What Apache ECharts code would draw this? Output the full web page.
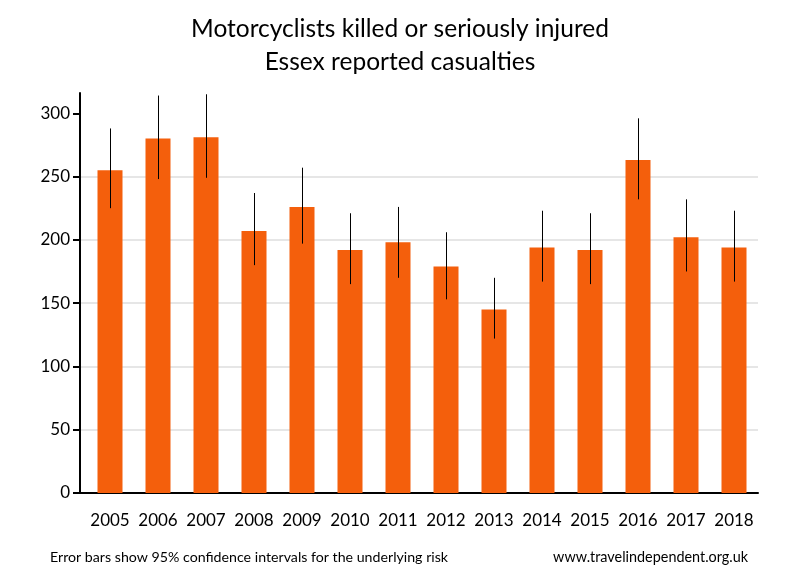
<!DOCTYPE html>
<html><head><meta charset="utf-8">
<script src="https://cdn.jsdelivr.net/npm/echarts@6/dist/echarts.min.js"></script>
<style>html,body{margin:0;padding:0;background:#fff}#c{width:800px;height:580px}</style>
</head><body><div id="c"></div>
<script>
const years = ['2005','2006','2007','2008','2009','2010','2011','2012','2013','2014','2015','2016','2017','2018'];
const casualties = [255, 280, 281, 207, 226, 192, 198, 179, 145, 194, 192, 263, 202, 194];
const ciLow = [225, 248, 249, 180, 197, 165, 170, 153, 122, 167, 165, 232, 175, 167];
const ciHigh = [288, 314, 315, 237, 257, 221, 226, 206, 170, 223, 221, 296, 232, 223];
const yTicks = [0, 50, 100, 150, 200, 250, 300];
const yMax = 316;

const FONT = 'Lato';
const chart = echarts.init(document.getElementById('c'), null, {renderer: 'canvas'});
chart.setOption({
  animation: false,
  backgroundColor: '#fff',
  textStyle: {fontFamily: FONT},
  title: [
    {text: 'Motorcyclists killed or seriously injured\nEssex reported casualties', left: 'center', top: 8,
     textStyle: {fontFamily: FONT, fontSize: 24.5, fontWeight: 'normal', color: '#000', lineHeight: 33}},
    {text: 'Error bars show 95% confidence intervals for the underlying risk', left: 45, top: 545,
     textStyle: {fontFamily: FONT, fontSize: 14.2, fontWeight: 'normal', color: '#000'}},
    {text: 'www.travelindependent.org.uk', right: 47, top: 545,
     textStyle: {fontFamily: FONT, fontSize: 14.4, fontWeight: 'normal', color: '#000'}}
  ],
  grid: [
    {left: 80, right: 42, top: 93, bottom: 87},
    {left: 86, right: 42, top: 93, bottom: 87}
  ],
  xAxis: [
    {type: 'value', gridIndex: 0, min: 0, max: 1,
     axisLine: {show: true, onZero: false, lineStyle: {color: '#000', width: 2}},
     axisTick: {show: false}, axisLabel: {show: false}, splitLine: {show: false}},
    {type: 'category', gridIndex: 1, data: years,
     axisLine: {show: false}, axisTick: {show: false},
     axisLabel: {color: '#000', fontSize: 17, margin: 19, fontFamily: FONT, interval: 0}}
  ],
  yAxis: [
    {type: 'value', gridIndex: 0, min: 0, max: yMax, interval: 50,
     axisLine: {show: true, lineStyle: {color: '#000', width: 2}},
     axisTick: {show: true, length: 7, customValues: yTicks, lineStyle: {color: '#000', width: 2}},
     axisLabel: {color: '#000', fontSize: 17, margin: 10, fontFamily: FONT, customValues: yTicks},
     splitLine: {show: true, showMaxLine: false, lineStyle: {color: '#e6e6e6', width: 2}}},
    {type: 'value', gridIndex: 1, min: 0, max: yMax, show: false, splitLine: {show: false}}
  ],
  series: [
    {type: 'bar', xAxisIndex: 1, yAxisIndex: 1, data: casualties, barWidth: 25, itemStyle: {color: '#f45f0c'}},
    {type: 'custom', xAxisIndex: 1, yAxisIndex: 1, clip: false, z: 5,
     data: years.map((y, i) => [i, ciLow[i], ciHigh[i]]),
     renderItem: function(params, api) {
       const lo = api.coord([api.value(0), api.value(1)]);
       const hi = api.coord([api.value(0), api.value(2)]);
       const x = Math.round(lo[0]) + 0.5;
       return {type: 'line', shape: {x1: x, y1: lo[1], x2: x, y2: hi[1]},
               style: {stroke: '#000', lineWidth: 1}};
     }}
  ]
});
</script></body></html>
